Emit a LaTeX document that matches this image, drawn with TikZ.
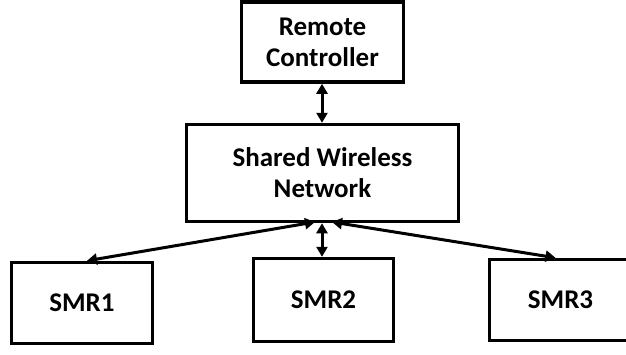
\documentclass[tikz,border=0pt]{standalone}
\usepackage{fontspec}
\setmainfont{Carlito}
\usetikzlibrary{arrows.meta}
\begin{document}
\begin{tikzpicture}[x=1pt,y=-1pt,
  box/.style={draw=black,line width=3.5pt,fill=white,rectangle,inner sep=0pt,align=center,
    font=\fontsize{27}{31}\selectfont\bfseries},
  arr/.style={line width=3pt,{Triangle[length=10pt,width=11pt]}-{Triangle[length=10pt,width=11pt]}}]
\useasboundingbox (0,0) rectangle (626,354);
\fill[white] (0,0) rectangle (626,354);
\node[box,minimum width=162pt,minimum height=80pt] (rc) at (322.5,42) {Remote\\Controller};
\node[box,minimum width=272pt,minimum height=97pt] (sw) at (322.5,173) {Shared Wireless\\Network};
\node[box,minimum width=141pt,minimum height=81pt] (s1) at (82,303) {SMR1};
\node[box,minimum width=140pt,minimum height=83pt] (s2) at (323.5,300) {SMR2};
\node[box,minimum width=142pt,minimum height=81pt] (s3) at (560.5,300) {SMR3};
\coordinate (f1) at (315,222);
\coordinate (f3) at (332,222);
\draw[arr] (rc.south -| 322,0) -- (sw.north -| 322,0);
\draw[arr] (sw.south -| 322,0) -- (s2.north -| 322,0);
\draw[arr] (f1) -- ([xshift=5pt]s1.north);
\draw[arr] (f3) -- ([xshift=-5pt]s3.north);
\end{tikzpicture}
\end{document}
